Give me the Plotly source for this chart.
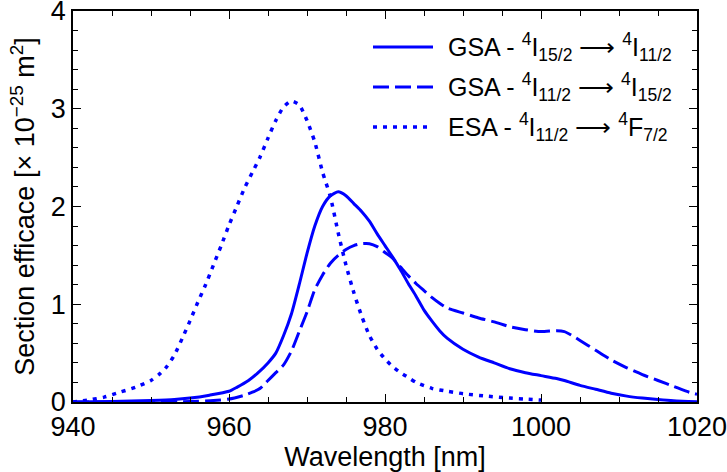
import plotly.graph_objects as go

# GSA 4I15/2 -> 4I11/2 (solid)
wl_gsa1 = [940, 945, 950, 953, 955, 957.5, 960, 961, 962.5, 963.6, 965, 966, 967, 968, 969, 970, 971, 972, 973, 974,
           975, 976, 977, 978, 979, 980, 981, 982, 983, 984, 985, 986, 987, 988, 990, 992, 994, 996, 998, 1000,
           1002, 1003, 1005, 1007, 1009, 1011, 1013, 1015, 1017, 1020]
cs_gsa1 = [0.0, 0.005, 0.015, 0.025, 0.04, 0.07, 0.11, 0.15, 0.22, 0.29, 0.40, 0.50, 0.68, 0.90, 1.20, 1.52, 1.80, 2.00, 2.11, 2.15,
           2.11, 2.03, 1.95, 1.85, 1.72, 1.60, 1.48, 1.35, 1.21, 1.08, 0.94, 0.83, 0.73, 0.65, 0.54, 0.46, 0.40, 0.34, 0.30, 0.27,
           0.24, 0.22, 0.17, 0.13, 0.09, 0.06, 0.04, 0.025, 0.013, 0.003]

# GSA 4I11/2 -> 4I15/2 (dashed)
wl_gsa2 = [940, 950, 955, 958, 960, 962, 963, 964, 965, 966, 967, 968, 969, 970, 971, 972, 973, 974, 975, 976,
           977, 978, 979, 980, 981, 982, 983, 984, 985, 986, 987, 988, 990, 992, 994, 996, 998, 1000, 1002, 1003,
           1004, 1005, 1007, 1009, 1011, 1013, 1015, 1017, 1019, 1020]
cs_gsa2 = [0.0, 0.0, 0.005, 0.015, 0.03, 0.07, 0.10, 0.14, 0.22, 0.30, 0.38, 0.52, 0.72, 0.92, 1.15, 1.30, 1.42, 1.50, 1.56, 1.60,
           1.62, 1.62, 1.59, 1.53, 1.47, 1.38, 1.29, 1.21, 1.14, 1.07, 1.01, 0.96, 0.91, 0.86, 0.82, 0.77, 0.74, 0.72, 0.73, 0.72,
           0.68, 0.63, 0.53, 0.43, 0.35, 0.28, 0.22, 0.16, 0.10, 0.08]

# ESA 4I11/2 -> 4F7/2 (dotted)
wl_esa = [940, 942, 944, 946, 948, 950, 951, 952, 953, 954, 955, 956, 957, 958, 959, 960, 961, 962, 963, 964,
          965, 966, 967, 968, 969, 970, 971, 972, 973, 974, 975, 976, 977, 978, 979, 980, 981, 982, 983, 984,
          986, 988, 990, 993, 996, 998, 1000]
cs_esa = [0.0, 0.02, 0.05, 0.10, 0.15, 0.22, 0.28, 0.36, 0.48, 0.65, 0.83, 1.02, 1.20, 1.40, 1.60, 1.81, 2.00, 2.19, 2.35, 2.51,
          2.70, 2.88, 3.02, 3.08, 3.04, 2.88, 2.66, 2.35, 2.10, 1.73, 1.40, 1.12, 0.88, 0.68, 0.54, 0.44, 0.36, 0.30, 0.25, 0.20,
          0.14, 0.11, 0.085, 0.06, 0.04, 0.03, 0.02]

x_ticks = [940, 960, 980, 1000, 1020]
y_ticks = [0, 1, 2, 3, 4]

labels = [
    "GSA - <sup>4</sup>I<sub>15/2</sub> ⟶ <sup>4</sup>I<sub>11/2</sub>",
    "GSA - <sup>4</sup>I<sub>11/2</sub> ⟶ <sup>4</sup>I<sub>15/2</sub>",
    "ESA - <sup>4</sup>I<sub>11/2</sub> ⟶ <sup>4</sup>F<sub>7/2</sub>",
]

BLUE = "#0000FF"
dashes = ["solid", "16px,6px", "4px,6px"]
widths = [3, 3, 3.5]

fig = go.Figure()
for xs, ys, d, w in zip([wl_gsa1, wl_gsa2, wl_esa], [cs_gsa1, cs_gsa2, cs_esa], dashes, widths):
    fig.add_trace(go.Scatter(x=xs, y=ys, mode="lines", showlegend=False,
                             line=dict(color=BLUE, width=w, dash=d, shape="spline", smoothing=0.6)))

# manual legend
W, H = 727, 472
ml, mr, mt, mb = 73, 30, 11, 70
pw, ph = W - ml - mr, H - mt - mb
rows_y = [47, 87, 127]
for lab, d, w, ry in zip(labels, dashes, widths, rows_y):
    yp = 1 - (ry - mt) / ph
    x0 = (373 - ml) / pw
    x1 = (433 - ml) / pw
    fig.add_shape(type="line", xref="paper", yref="paper", x0=x0, x1=x1, y0=yp, y1=yp,
                  line=dict(color=BLUE, width=w, dash=d))
    fig.add_annotation(xref="paper", yref="paper", x=(446 - ml) / pw, y=yp, xanchor="left", yanchor="middle",
                       text=lab, showarrow=False, font=dict(size=25, color="black", family="Arial"))

axis_common = dict(showline=True, linecolor="black", linewidth=1.5, mirror="ticks", ticks="inside",
                   ticklen=8, tickwidth=1.2, tickcolor="black", showgrid=False, zeroline=False,
                   automargin=False, ticklabeloverflow="allow",
                   tickfont=dict(size=27, color="black", family="Arial"))

fig.update_layout(
    width=W, height=H, margin=dict(l=ml, r=mr, t=mt, b=mb),
    paper_bgcolor="white", plot_bgcolor="white",
    font=dict(family="Arial", color="black"),
    xaxis=dict(range=[940, 1020], tickvals=x_ticks,
               minor=dict(dtick=5, tick0=940, ticks="inside", ticklen=5, tickcolor="black", tickwidth=1),
               title=dict(text="Wavelength [nm]", font=dict(size=27), standoff=4),
               **axis_common),
    yaxis=dict(range=[0, 4], tickvals=y_ticks,
               minor=dict(dtick=0.2, tick0=0, ticks="inside", ticklen=5, tickcolor="black", tickwidth=1),
               title=dict(text="Section efficace [× 10<sup>−25</sup> m<sup>2</sup>]", font=dict(size=27), standoff=8),
               **axis_common),
)

fig.write_html("out.html")
